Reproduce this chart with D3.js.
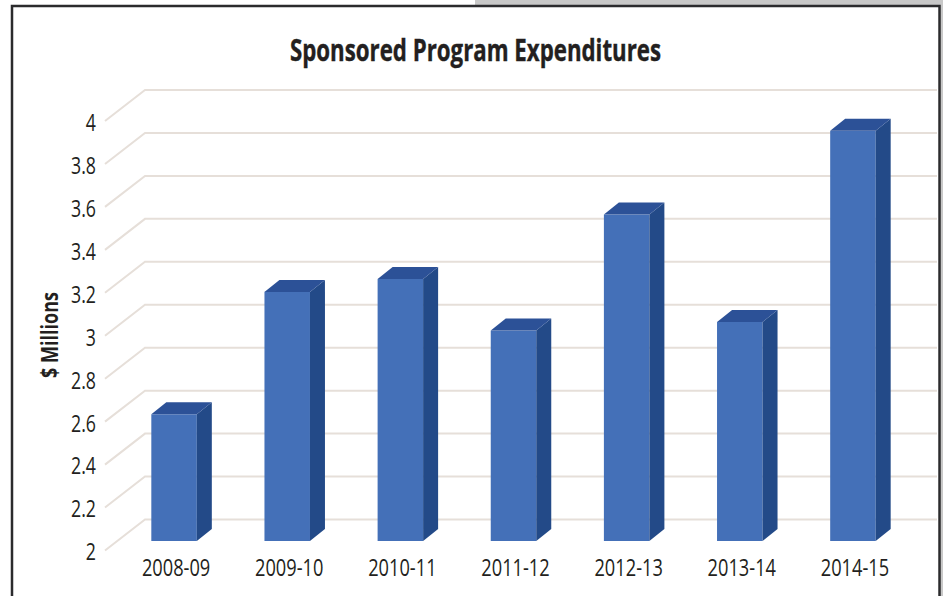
<!DOCTYPE html>
<html>
<head>
<meta charset="utf-8">
<script src="https://cdn.jsdelivr.net/npm/d3@7"></script>
<style>
  body { margin: 0; background: #fff; }
  text { font-family: "Open Sans", "Noto Sans", sans-serif; fill: #231f20; }
</style>
</head>
<body>
<div id="chart"></div>
<script>
// Chart data
var years = ["2008-09", "2009-10", "2010-11", "2011-12", "2012-13", "2013-14", "2014-15"];
var expenditures = [2.59, 3.16, 3.22, 2.98, 3.52, 3.02, 3.91];
var yTicks = [2, 2.2, 2.4, 2.6, 2.8, 3, 3.2, 3.4, 3.6, 3.8, 4];

var svgWidth = 943;
var svgHeight = 596;

// Depth of the fake 3D floor
var depthX = 40;
var depthY = 31;
var barDepthX = 15;
var barDepthY = 12;

var svg = d3.select("#chart")
  .append("svg")
  .attr("width", svgWidth)
  .attr("height", svgHeight)
  .style("display", "block");

// Grey page strip and frame
svg.append("rect").attr("x", 475).attr("y", 0).attr("width", 468).attr("height", 6).attr("fill", "#c8c8c8");
svg.append("rect").attr("x", 940).attr("y", 0).attr("width", 3).attr("height", 596).attr("fill", "#c8c8c8");
svg.append("rect")
  .attr("x", 12).attr("y", 6)
  .attr("width", 927.5).attr("height", 600)
  .attr("fill", "#fff")
  .attr("stroke", "#2b2b2d")
  .attr("stroke-width", 2.5);

// Scales are on the back wall
var xScale = d3.scaleBand().domain(years).range([145, 937]);
var yScale = d3.scaleLinear().domain([2, 4]).range([519.5, 90]);

// Gridlines
var grid = svg.append("g");
grid.selectAll("polyline")
  .data(yTicks)
  .enter()
  .append("polyline")
  .attr("points", d => `${xScale.range()[0] - depthX},${yScale(d) + depthY} ${xScale.range()[0]},${yScale(d)} ${xScale.range()[1]},${yScale(d)}`)
  .attr("fill", "none")
  .attr("stroke", "#e6dfd9")
  .attr("stroke-width", 2);

// Bars
var barWidth = 45.5;
var bars = svg.append("g").selectAll("g")
  .data(years)
  .enter()
  .append("g")
  .attr("transform", d => `translate(${xScale(d) + xScale.bandwidth() / 2 - 20 - (barWidth + barDepthX) / 2}, ${21.5})`);

// front face, side face, top face
bars.append("rect")
  .attr("y", (d, i) => yScale(expenditures[i]))
  .attr("width", barWidth)
  .attr("height", (d, i) => yScale(2) - yScale(expenditures[i]))
  .attr("fill", "#4470b8");

bars.append("polygon")
  .attr("points", (d, i) => {
    var t = yScale(expenditures[i]), b = yScale(2);
    return `${barWidth},${t} ${barWidth + barDepthX},${t - barDepthY} ${barWidth + barDepthX},${b - barDepthY} ${barWidth},${b}`;
  })
  .attr("fill", "#234a88");

bars.append("polygon")
  .attr("points", (d, i) => {
    var t = yScale(expenditures[i]);
    return `0,${t} ${barDepthX},${t - barDepthY} ${barWidth + barDepthX},${t - barDepthY} ${barWidth},${t}`;
  })
  .attr("fill", "#2c5197");

// Squeeze a text to look like the condensed face of the original
function condense(sel, sx) {
  sel.attr("transform", function() {
    var x = +d3.select(this).attr("data-x");
    return `translate(${x}, 0) scale(${sx}, 1)`;
  });
}

// Y axis labels
svg.append("g").selectAll("text")
  .data(yTicks)
  .enter()
  .append("text")
  .attr("data-x", 96)
  .attr("y", d => yScale(d) + depthY + 1.5)
  .attr("dy", "0.35em")
  .attr("text-anchor", "end")
  .attr("font-size", 24)
  .text(d => d)
  .call(condense, 0.74);

// X axis labels
svg.append("g").selectAll("text")
  .data(years)
  .enter()
  .append("text")
  .attr("data-x", d => xScale(d) + xScale.bandwidth() / 2 - 25.5)
  .attr("y", 568)
  .attr("dy", "0.35em")
  .attr("text-anchor", "middle")
  .attr("font-size", 24)
  .text(d => d)
  .call(condense, 0.76);

// Title
svg.append("text")
  .attr("x", 475.5)
  .attr("y", 61)
  .attr("text-anchor", "middle")
  .attr("font-size", 30)
  .attr("font-weight", "bold")
  .attr("stroke", "#231f20")
  .attr("stroke-width", 0.4)
  .attr("textLength", 371)
  .attr("lengthAdjust", "spacingAndGlyphs")
  .text("Sponsored Program Expenditures");

// Axis label
svg.append("text")
  .attr("transform", "translate(58, 335) rotate(-90)")
  .attr("text-anchor", "middle")
  .attr("font-size", 23)
  .attr("font-weight", "bold")
  .attr("textLength", 86)
  .attr("lengthAdjust", "spacingAndGlyphs")
  .text("$ Millions");
</script>
</body>
</html>
